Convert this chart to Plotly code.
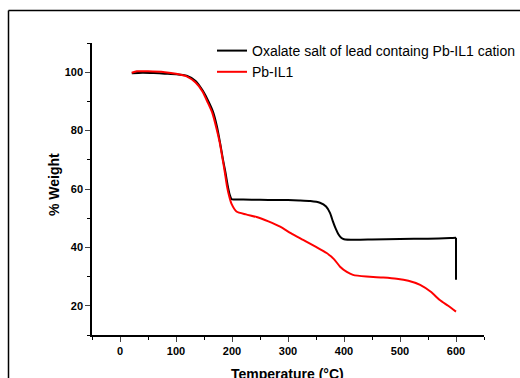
import plotly.graph_objects as go

# Data
temp_black = [21, 40, 60, 80, 100, 119, 135, 148, 158, 166, 173, 179, 184, 188, 192, 196, 199, 203,
              220, 250, 280, 300, 320, 340, 357, 368, 375, 380, 385, 390, 395, 400, 420, 450, 500, 550, 590, 600, 600]
wt_black = [99.6, 99.8, 99.7, 99.5, 99.3, 98.8, 97.0, 93.6, 90.0, 86.5, 81.5, 75.5, 70.0, 66.0, 61.5, 58.0, 56.6, 56.4,
            56.4, 56.3, 56.2, 56.2, 56.1, 55.9, 55.3, 54.0, 51.8, 49.0, 46.5, 44.5, 43.3, 42.8, 42.6, 42.7, 42.9, 43.0, 43.2, 43.3, 28.9]

temp_red = [21, 30, 50, 80, 100, 119, 135, 147, 157, 165, 172, 178, 183, 187, 191, 195, 199, 208,
            225, 244, 265, 286, 305, 327, 350, 369, 382, 393, 405, 416, 440, 470, 494, 515, 536, 555, 571, 586, 600]
wt_red = [99.8, 100.3, 100.3, 100.0, 99.5, 98.6, 96.5, 93.5, 89.5, 86.0, 81.0, 76.0, 70.5, 66.0, 61.0, 57.5, 55.0, 52.3,
          51.3, 50.4, 48.9, 47.1, 44.9, 42.6, 40.2, 38.1, 36.0, 33.4, 31.6, 30.6, 30.0, 29.7, 29.3, 28.6, 27.2, 24.8, 22.0, 20.0, 18.0]

x_ticks = [0, 100, 200, 300, 400, 500, 600]
y_ticks = [20, 40, 60, 80, 100]

W, H = 520, 378
L, R, T, B = 92, 36, 43, 43
pw, ph = W - L - R, H - T - B

def px(x):
    return (x - L) / pw

def py(y):
    return (H - B - y) / ph

fig = go.Figure()
# black curve: smooth part plus the straight vertical drop at the end
fig.add_trace(go.Scatter(x=temp_black[:-1], y=wt_black[:-1], mode="lines",
                         line=dict(color="black", width=2, shape="spline", smoothing=0.6),
                         name="Oxalate salt of lead containg Pb-IL1 cation"))
fig.add_trace(go.Scatter(x=temp_black[-2:], y=wt_black[-2:], mode="lines",
                         line=dict(color="black", width=2), showlegend=False))
fig.add_trace(go.Scatter(x=temp_red, y=wt_red, mode="lines",
                         line=dict(color="#ff0000", width=2, shape="spline", smoothing=0.6),
                         name="Pb-IL1"))

tickfont = dict(family="Arial, Liberation Sans", size=11, color="black", weight="bold")
fig.update_xaxes(range=[-50, 650], tickvals=x_ticks, ticks="outside", ticklen=5, tickwidth=1,
                 showline=True, linecolor="black", linewidth=1.5, showgrid=False, zeroline=False,
                 tickfont=tickfont, automargin=False,
                 minor=dict(dtick=50, tick0=0, ticks="outside", ticklen=3, tickcolor="black"))
fig.update_yaxes(range=[10, 110], tickvals=y_ticks, ticks="outside", ticklen=5, tickwidth=1,
                 showline=True, linecolor="black", linewidth=1.5, showgrid=False, zeroline=False,
                 tickfont=tickfont, automargin=False,
                 minor=dict(dtick=10, tick0=0, ticks="outside", ticklen=3, tickcolor="black"))

fig.add_annotation(x=px(54), y=py(185), xref="paper", yref="paper", text="% Weight", textangle=-90,
                   showarrow=False, xanchor="center",
                   font=dict(family="Arial, Liberation Sans", size=14, color="black", weight="bold"))
fig.add_annotation(x=px(287), y=py(364), xref="paper", yref="paper", text="Temperature (°C)",
                   showarrow=False, yanchor="top",
                   font=dict(family="Arial, Liberation Sans", size=14, color="black", weight="bold"))

# outer frame (top and left)
fig.add_shape(type="line", xref="paper", yref="paper", x0=px(8.5), y0=py(380), x1=px(8.5), y1=py(10.5),
              line=dict(color="black", width=1.5))
fig.add_shape(type="line", xref="paper", yref="paper", x0=px(8.5), y0=py(10.5), x1=px(522), y1=py(10.5),
              line=dict(color="black", width=1.5))

fig.update_layout(
    width=W, height=H, margin=dict(l=L, r=R, t=T, b=B, autoexpand=False),
    paper_bgcolor="white", plot_bgcolor="white",
    legend=dict(x=px(212), y=py(35), xanchor="left", yanchor="top", bgcolor="rgba(0,0,0,0)",
                font=dict(family="Arial, Liberation Sans", size=14, color="black"),
                tracegroupgap=0, itemwidth=30),
)

fig.write_html("out.html")
